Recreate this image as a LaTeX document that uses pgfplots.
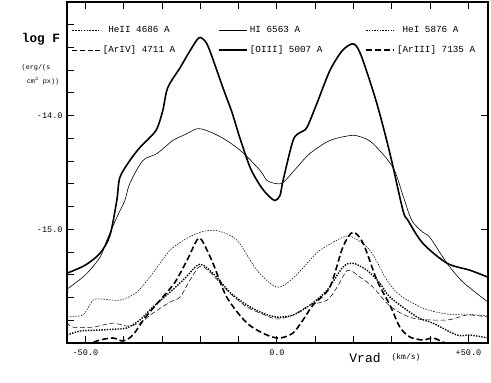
\documentclass[border=0pt]{standalone}
\usepackage{pgfplots}
\pgfplotsset{compat=1.18}
\usepackage{fontspec}
\setmainfont{Liberation Mono}
\setmonofont{Liberation Mono}
\begin{document}
\begin{tikzpicture}
\begin{axis}[
  width=421pt, height=341pt, scale only axis,
  xmin=-54.8, xmax=55.1, ymin=-16, ymax=-13,
  axis line style={line width=1.1pt},
  tick align=inside, major tick length=7pt,
  tick style={line width=0.9pt, black},
  xtick={-50,-40,-30,-20,-10,0,10,20,30,40,50},
  xticklabels={-50.0,,,,,0.0,,,,,+50.0},
  xtick pos=both,
  ytick={-15.8,-15.6,-15.4,-15.2,-15,-14.8,-14.6,-14.4,-14.2,-14,-13.8,-13.6,-13.4,-13.2},
  yticklabels={,,,,-15.0,,,,,-14.0,,,,},
  ytick pos=left,
  /pgf/number format/assume math mode=true,
  ticklabel style={font=\fontsize{8.5}{10}\selectfont},
  xticklabel style={yshift=-3pt},
  yticklabel style={xshift=-1pt},
  legend columns=3,
  legend cell align=left,
  legend style={draw=none, fill=none, at={(rel axis cs:0.012,0.935)}, anchor=north west,
    font=\fontsize{9.3}{11}\selectfont, row sep=8pt, inner sep=0pt,
    /tikz/every even column/.append style={column sep=41pt}},
  legend image code/.code={\draw[#1] (0pt,0pt) -- (28pt,0pt);},
]
% HeII 4686 (thin short dashes)
\addplot[black, line width=0.5pt, dash pattern=on 1.6pt off 1.2pt, smooth] coordinates {
(-54.8,-15.763)(-50.7,-15.754)(-48.0,-15.623)(-45.4,-15.614)(-41.0,-15.623)(-36.6,-15.553)
(-32.4,-15.386)(-27.9,-15.184)(-23.5,-15.079)(-20.1,-15.026)(-17.5,-15.009)(-14.9,-15.018)
(-10.4,-15.096)(-5.2,-15.360)(0.0,-15.509)(4.2,-15.430)(8.6,-15.272)(11.2,-15.184)
(17.2,-15.070)(19.8,-15.070)(24.3,-15.184)(28.7,-15.447)(32.1,-15.579)(38.1,-15.693)
(44.4,-15.746)(49.6,-15.746)(55.1,-15.763)};
\addlegendentry{\ HeII 4686 A}
% HI 6563 (thin solid)
\addplot[black, line width=0.6pt, smooth] coordinates {
(-54.8,-15.526)(-50.1,-15.404)(-46.2,-15.246)(-44.4,-15.096)(-41.8,-14.895)(-39.7,-14.746)
(-38.4,-14.596)(-35.0,-14.395)(-31.3,-14.333)(-27.2,-14.219)(-24.0,-14.167)(-20.6,-14.114)
(-17.0,-14.149)(-13.1,-14.219)(-8.9,-14.325)(-4.4,-14.482)(-2.6,-14.570)(-0.5,-14.596)
(1.6,-14.588)(5.2,-14.456)(8.6,-14.333)(13.8,-14.219)(19.1,-14.175)(21.7,-14.184)
(25.1,-14.246)(30.3,-14.456)(32.9,-14.702)(35.2,-14.921)(38.1,-15.026)(39.9,-15.070)
(44.4,-15.298)(48.6,-15.465)(55.1,-15.640)};
\addlegendentry{HI 6563 A}
% HeI 5876 (thick dotted)
\addplot[black, line width=1.4pt, dash pattern=on 1.4pt off 1.3pt, smooth] coordinates {
(-54.8,-15.930)(-51.4,-15.895)(-46.2,-15.886)(-41.8,-15.877)(-39.2,-15.868)(-35.8,-15.798)
(-32.4,-15.684)(-27.9,-15.553)(-24.0,-15.430)(-20.1,-15.307)(-16.2,-15.404)(-12.3,-15.553)
(-7.8,-15.667)(-3.7,-15.737)(0.0,-15.772)(4.2,-15.754)(8.6,-15.667)(13.1,-15.535)
(17.2,-15.333)(19.8,-15.298)(23.5,-15.360)(26.9,-15.474)(29.5,-15.596)(36.6,-15.772)
(40.7,-15.825)(47.0,-15.930)(50.4,-15.930)(55.1,-15.956)};
\addlegendentry{\ HeI 5876 A}
% [ArIV] 4711 (thin long dash)
\addplot[black, line width=0.5pt, dash pattern=on 5pt off 2.5pt, smooth] coordinates {
(-54.8,-15.816)(-53.3,-15.860)(-48.0,-15.860)(-42.8,-15.825)(-39.2,-15.851)(-35.8,-15.825)
(-32.4,-15.737)(-27.9,-15.640)(-25.3,-15.596)(-22.7,-15.447)(-20.1,-15.325)(-17.5,-15.377)
(-12.3,-15.561)(-7.8,-15.684)(-3.7,-15.746)(0.0,-15.789)(4.2,-15.754)(8.6,-15.667)
(13.1,-15.623)(15.7,-15.509)(18.5,-15.360)(21.7,-15.421)(25.1,-15.509)(29.5,-15.675)
(35.5,-15.781)(44.4,-15.798)(49.6,-15.754)(55.1,-15.772)};
\addlegendentry{[ArIV] 4711 A}
% [OIII] 5007 (thick solid)
\addplot[black, line width=1.6pt, smooth] coordinates {
(-54.8,-15.386)(-50.1,-15.316)(-46.2,-15.211)(-43.6,-15.053)(-41.8,-14.746)(-41.0,-14.544)
(-38.4,-14.395)(-35.8,-14.281)(-33.2,-14.193)(-31.3,-14.114)(-29.8,-13.956)(-28.5,-13.754)
(-25.3,-13.579)(-22.7,-13.430)(-20.4,-13.316)(-18.8,-13.342)(-17.5,-13.430)(-14.1,-13.754)
(-11.7,-13.974)(-9.7,-14.193)(-7.0,-14.456)(-4.4,-14.614)(-2.3,-14.702)(-0.5,-14.746)
(0.8,-14.702)(1.6,-14.570)(4.2,-14.219)(6.0,-14.149)(7.8,-14.105)(10.4,-13.895)
(13.8,-13.605)(17.0,-13.430)(19.6,-13.368)(20.9,-13.395)(22.5,-13.518)(26.1,-13.895)
(29.5,-14.333)(32.9,-14.833)(34.2,-14.921)(38.1,-15.123)(44.4,-15.298)(50.4,-15.360)
(55.1,-15.421)};
\addlegendentry{[OIII] 5007 A}
% [ArIII] 7135 (thick long dash)
\addplot[black, line width=1.6pt, dash pattern=on 6pt off 3pt, smooth] coordinates {
(-50.1,-16.02)(-46.2,-15.974)(-42.8,-15.956)(-40.2,-15.982)(-37.6,-15.930)(-34.5,-15.781)
(-30.5,-15.623)(-26.6,-15.465)(-23.2,-15.254)(-20.9,-15.096)(-19.6,-15.096)(-16.7,-15.298)
(-13.1,-15.596)(-7.8,-15.825)(-2.6,-15.930)(0.8,-15.956)(4.2,-15.912)(6.8,-15.798)
(9.4,-15.667)(13.8,-15.509)(17.2,-15.158)(19.8,-15.026)(22.5,-15.123)(26.1,-15.447)
(29.5,-15.667)(32.1,-15.860)(34.7,-15.947)(38.1,-15.974)(40.7,-15.956)(43.3,-15.991)
(46.5,-16.04)};
\addlegendentry{[ArIII] 7135 A}
\draw[line width=0.9pt] (axis cs:55.1,-14) -- ++(-7pt,0pt);
\draw[line width=0.9pt] (axis cs:55.1,-15) -- ++(-7pt,0pt);
\end{axis}
\node[font=\fontsize{12.7}{14}\selectfont\bfseries] at ([xshift=-26pt,yshift=-37pt]current axis.north west) {log F};
\node[font=\fontsize{6.8}{8}\selectfont] at ([xshift=-31pt,yshift=-66pt]current axis.north west) {(erg/(s};
\node[font=\fontsize{6.8}{8}\selectfont] at ([xshift=-24pt,yshift=-79pt]current axis.north west) {cm$^2$ px))};
\node[font=\fontsize{13}{14}\selectfont] at ([xshift=298pt,yshift=-15pt]current axis.south west) {Vrad};
\node[font=\fontsize{8}{10}\selectfont] at ([xshift=339pt,yshift=-14pt]current axis.south west) {(km/s)};
\pgfresetboundingbox
\path[use as bounding box] ([xshift=-67pt,yshift=-39pt]current axis.south west) rectangle ([xshift=3pt,yshift=2pt]current axis.north east);
\end{tikzpicture}
\end{document}
